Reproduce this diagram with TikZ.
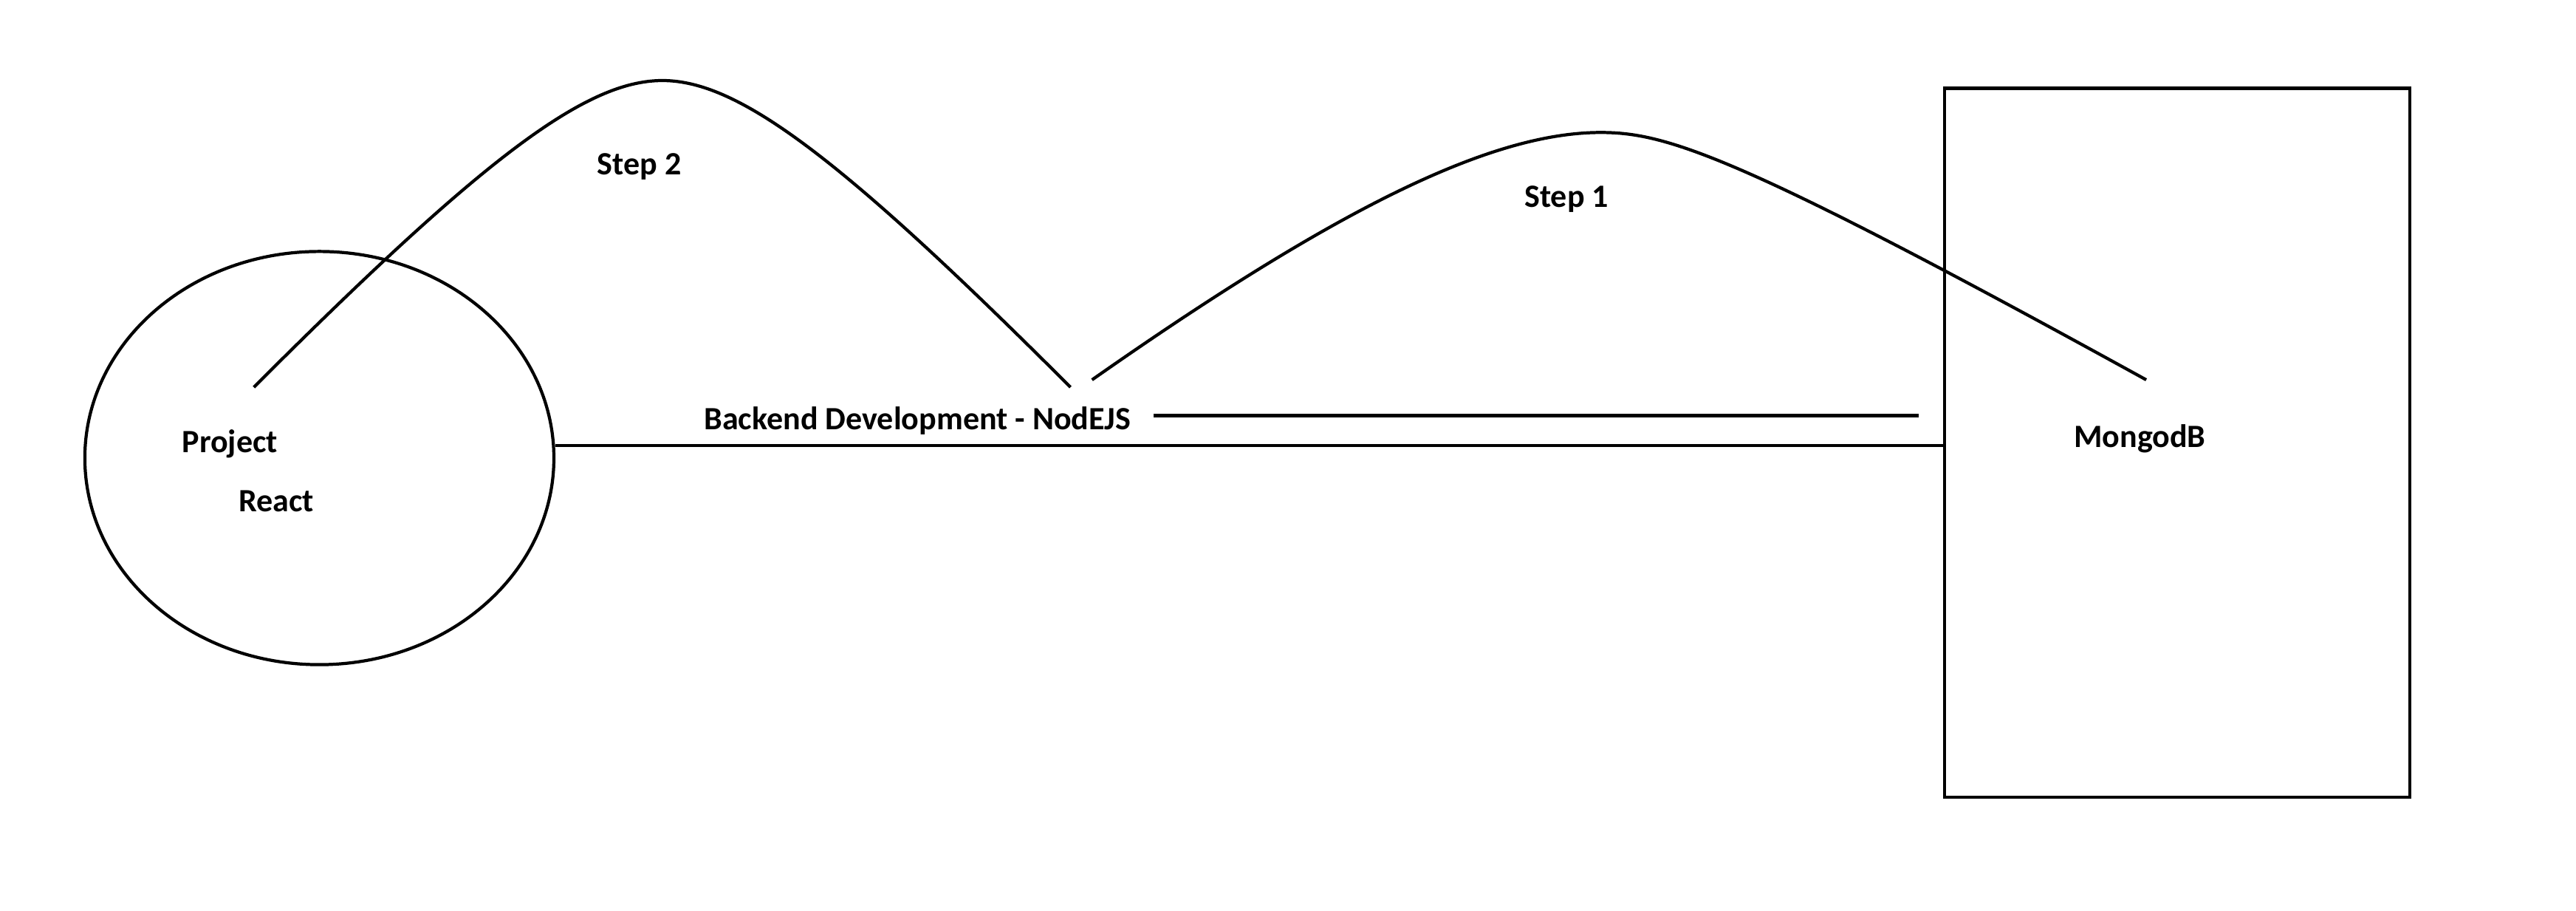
\documentclass[tikz,border=0pt]{standalone}
\usepackage{fontspec}
\setmainfont{Carlito}
\usetikzlibrary{shapes.geometric}

\begin{document}
\begin{tikzpicture}[x=1pt, y=-1pt, line width=1.9pt,
		lbl/.style={font=\fontsize{19.8}{23}\selectfont\bfseries, inner sep=0pt, anchor=base}]
			\useasboundingbox (0,0) rectangle (1568,554);
			% Define nodes
			\node[ellipse, draw, minimum width=285.5pt, minimum height=251.4pt, inner sep=0pt] (react) at (194.4,278.7) {}; % Front end
			\node[rectangle, draw, minimum width=283.2pt, minimum height=431.3pt, inner sep=0pt] (mongo) at (1325.2,269.4) {}; % Database
			\node[lbl] (project) at (140,275.5) {Project};
			\node[lbl] (reactText) at (168.1,311.5) {React};
			\node[lbl] (backend) at (558.5,261.4) {Backend Development - NodEJS};
			\node[lbl] (mongoText) at (1302.5,272) {MongodB};
			\node[lbl] (stepTwo) at (389.1,106.5) {Step 2};
			\node[lbl] (stepOne) at (953.5,125.9) {Step 1};
			
			% Curve ends
			\coordinate (twoStart) at (154.5,235.6);
			\coordinate (twoTop) at (403.2,49);
			\coordinate (twoEnd) at (651.6,235.6);
			\coordinate (oneStart) at (664.7,231.1);
			\coordinate (oneTop) at (974.4,80.6);
			\coordinate (oneEnd) at (1306.4,231.1);
			\coordinate (nodeEnd) at (1168.1,252.9);
			
			% Connect nodes
			\draw (react.3.4) -- (react.3.4 -| mongo.west);
			\draw ([xshift=13pt]backend.east |- nodeEnd) -- (nodeEnd);
			\draw (twoStart) .. controls (294.5,95.6) and (356.6,49) .. (twoTop)
				.. controls (449.6,49) and (511.6,95.6) .. (twoEnd);
			\draw (oneStart) .. controls (815.2,125.7) and (908.1,80.6) .. (oneTop)
				.. controls (1015.3,80.6) and (1060.2,95.6) .. (oneEnd);
		\end{tikzpicture}
\end{document}
